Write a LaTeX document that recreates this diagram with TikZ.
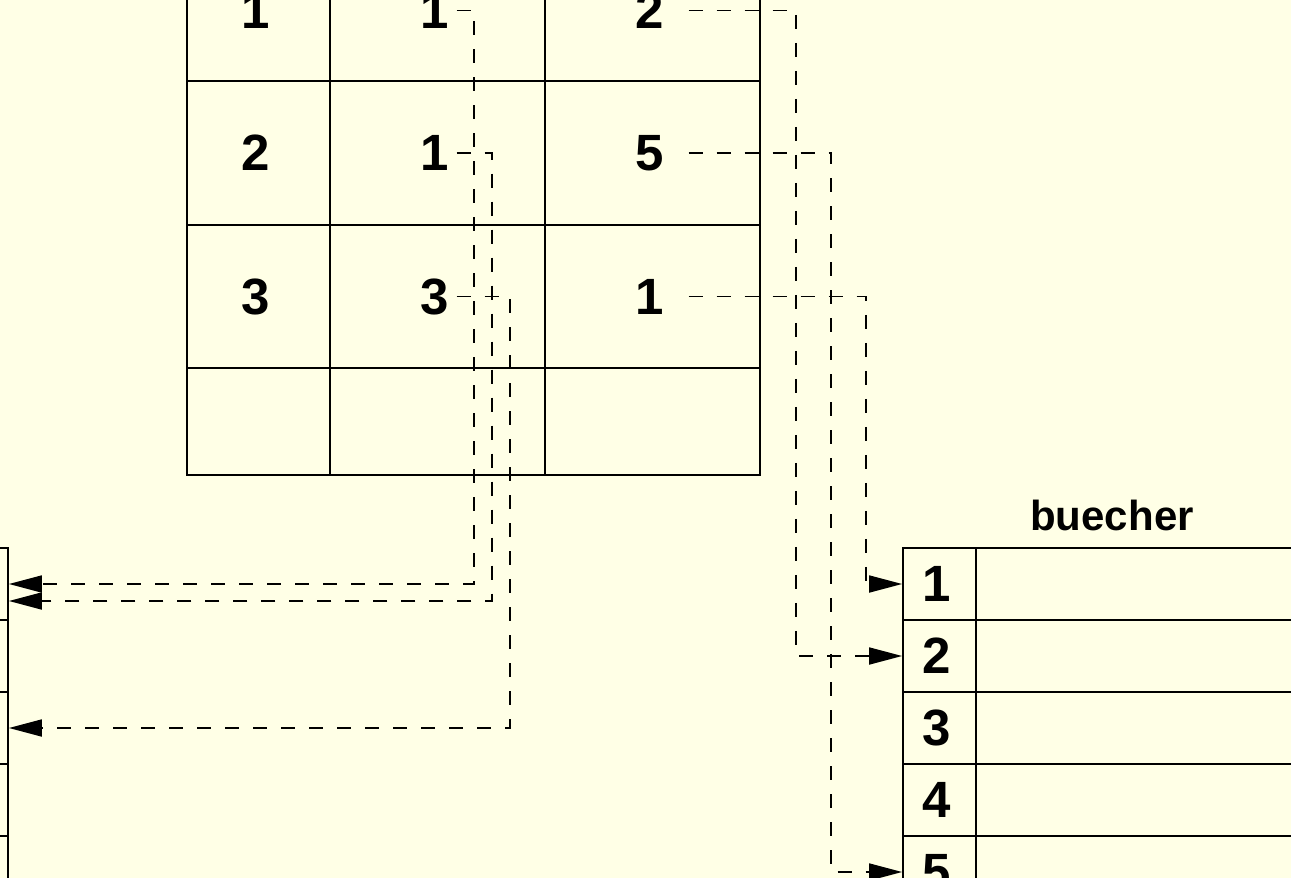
\documentclass[tikz,border=0pt]{standalone}
\usepackage{fontspec}
\setmainfont{Liberation Sans}
\usetikzlibrary{arrows.meta}

\definecolor{paper}{RGB}{255,255,230}

\tikzset{
  cell/.style={draw, line width=1.8pt, inner sep=0pt, font=\fontsize{51}{51}\selectfont\bfseries,
    execute at begin node=\hspace*{-6pt}},
  ref/.style={line width=1.8pt, dash pattern=on 14pt off 14pt, -{Triangle[length=33pt,width=17pt]}},
}

\begin{document}
\begin{tikzpicture}[x=1pt,y=-1pt]
	\useasboundingbox (0,0) rectangle (1291,878);
	\fill[paper] (0,0) rectangle (1291,878);
	\clip (0,0) rectangle (1291,878);

	% link table in the middle
	\node[cell, minimum width=143pt, minimum height=141pt] (t11) at (258.5,10.5) {1};
	\node[cell, minimum width=215pt, minimum height=141pt] (t12) at (437.5,10.5) {1};
	\node[cell, minimum width=215pt, minimum height=141pt] (t13) at (652.5,10.5) {2};
	\node[cell, minimum width=143pt, minimum height=144pt] (t21) at (258.5,153) {2};
	\node[cell, minimum width=215pt, minimum height=144pt] (t22) at (437.5,153) {1};
	\node[cell, minimum width=215pt, minimum height=144pt] (t23) at (652.5,153) {5};
	\node[cell, minimum width=143pt, minimum height=143pt] (t31) at (258.5,296.5) {3};
	\node[cell, minimum width=215pt, minimum height=143pt] (t32) at (437.5,296.5) {3};
	\node[cell, minimum width=215pt, minimum height=143pt] (t33) at (652.5,296.5) {1};
	\node[cell, minimum width=143pt, minimum height=107pt] (t41) at (258.5,421.5) {};
	\node[cell, minimum width=215pt, minimum height=107pt] (t42) at (437.5,421.5) {};
	\node[cell, minimum width=215pt, minimum height=107pt] (t43) at (652.5,421.5) {};

	% left table (only its right edge is shown)
	\node[cell, minimum width=200pt, minimum height=72pt] (l1) at (-92,584) {};
	\node[cell, minimum width=200pt, minimum height=72pt] (l2) at (-92,656) {};
	\node[cell, minimum width=200pt, minimum height=72pt] (l3) at (-92,728) {};
	\node[cell, minimum width=200pt, minimum height=72pt] (l4) at (-92,800) {};
	\node[cell, minimum width=200pt, minimum height=72pt] (l5) at (-92,872) {};

	% buecher
	\node[font=\fontsize{42}{42}\selectfont\bfseries] (btitle) at (1112,515) {buecher};
	\node[cell, minimum width=73pt, minimum height=72pt] (b1) at (939.5,584) {1};
	\node[cell, minimum width=73pt, minimum height=72pt] (b2) at (939.5,656) {2};
	\node[cell, minimum width=73pt, minimum height=72pt] (b3) at (939.5,728) {3};
	\node[cell, minimum width=73pt, minimum height=72pt] (b4) at (939.5,800) {4};
	\node[cell, minimum width=73pt, minimum height=72pt] (b5) at (939.5,872) {5};
	\node[cell, minimum width=345pt, minimum height=72pt] (b1r) at (1148.5,584) {};
	\node[cell, minimum width=345pt, minimum height=72pt] (b2r) at (1148.5,656) {};
	\node[cell, minimum width=345pt, minimum height=72pt] (b3r) at (1148.5,728) {};
	\node[cell, minimum width=345pt, minimum height=72pt] (b4r) at (1148.5,800) {};
	\node[cell, minimum width=345pt, minimum height=72pt] (b5r) at (1148.5,872) {};

	% second column -> left table
	\draw[ref] ([xshift=19pt]t12.center) -| ([xshift=465pt]l1.east) -- (l1.east);
	\draw[ref] ([xshift=19pt]t22.center) -| ([xshift=483pt,yshift=-17pt]l1.east) -- ([yshift=-17pt]l1.east);
	\draw[ref] ([xshift=19pt]t32.center) -| ([xshift=501pt]l3.east) -- (l3.east);

	% third column -> buecher
	\draw[ref] ([xshift=36pt]t13.center) -| ([xshift=-106pt]b2.west) -- (b2.west);
	\draw[ref] ([xshift=36pt]t23.center) -| ([xshift=-71pt]b5.west) -- (b5.west);
	\draw[ref] ([xshift=36pt]t33.center) -| ([xshift=-36pt]b1.west) -- (b1.west);
\end{tikzpicture}
\end{document}
